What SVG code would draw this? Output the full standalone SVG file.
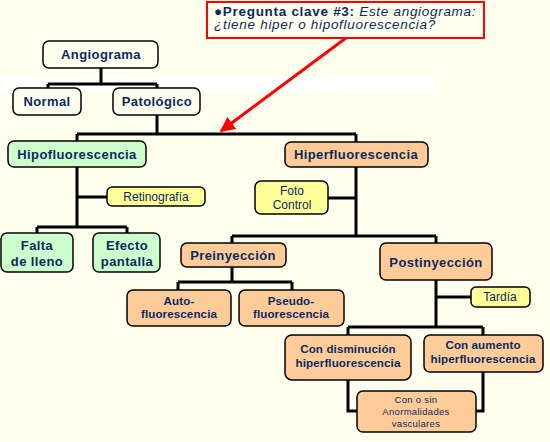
<svg xmlns="http://www.w3.org/2000/svg" width="550" height="442" viewBox="0 0 550 442">
<defs>
<style>
.box{stroke:#000;stroke-width:1.5}
.w{fill:#FFFFF0}
.g{fill:#CCFFCC}
.p{fill:#FFCC99}
.y{fill:#FFFF99}
.t{font-family:"Liberation Sans",Arial,sans-serif;font-size:13px;font-weight:bold;fill:#0A2A5E;text-anchor:middle;letter-spacing:0.4px}
.m{font-family:"Liberation Sans",Arial,sans-serif;font-size:11.6px;font-weight:bold;fill:#0A2A5E;text-anchor:middle;letter-spacing:0.1px}
.r{font-family:"Liberation Sans",Arial,sans-serif;font-size:12px;fill:#0A2A5E;text-anchor:middle}
.s{font-family:"Liberation Sans",Arial,sans-serif;font-size:9.5px;fill:#0A2A5E;text-anchor:middle;letter-spacing:0.3px}
.q{font-family:"Liberation Sans",Arial,sans-serif;font-size:13.5px;fill:#0A2A5E;letter-spacing:0.7px}
.c{fill:none;stroke:#000;stroke-width:3}
</style>
<marker id="ah" viewBox="0 0 10 10" refX="9" refY="5" markerWidth="5" markerHeight="5" orient="auto" markerUnits="strokeWidth">
<path d="M0,0 L10,5 L0,10 z" fill="#FF0000"/>
</marker>
</defs>
<rect width="550" height="442" fill="#FFFFF0"/>
<rect x="2" y="77" width="433" height="15" fill="#FFFFFF"/>
<g id="connectors">
<path class="c" d="M101,68 V84 M48,84 H157 M48,84 V88 M157,84 V88"/>
<path class="c" d="M157,115 V134 M77,134 H356 M77,134 V141 M356,134 V142"/>
<path class="c" d="M77,167 V227 M77,197 H107 M37,227 H127 M37,227 V233 M127,227 V233"/>
<path class="c" d="M356,167 V236 M328,198 H356 M232,236 H436 M232,236 V243 M436,236 V243"/>
<path class="c" d="M232,267 V282 M178,282 H292 M178,282 V290 M292,282 V290"/>
<path class="c" d="M436,280 V327 M436,297 H471 M348,327 H483 M348,327 V335 M483,327 V335"/>
<path class="c" d="M348,380 V411 H357 M483,372 V411 H476"/>
<line x1="346" y1="38" x2="221" y2="131" stroke="#FF0000" stroke-width="3" marker-end="url(#ah)"/>
</g>
<g id="callout">
<rect x="207" y="2" width="277" height="36" fill="#FFFFF0" stroke="#FF0000" stroke-width="2"/>
<text class="q" x="214" y="16"><tspan font-weight="bold">●Pregunta clave #3:</tspan><tspan font-style="italic"> Este angiograma:</tspan></text>
<text class="q" x="214" y="29" font-style="italic">¿tiene hiper o hipofluorescencia?</text>
</g>
<g id="angiograma"><rect class="box w" x="43" y="41" width="115" height="27" rx="6"/><text class="t" x="101" y="59">Angiograma</text></g>
<g id="normal"><rect class="box w" x="13" y="88" width="68" height="27" rx="6"/><text class="t" x="47" y="106">Normal</text></g>
<g id="patologico"><rect class="box w" x="113" y="88" width="87" height="27" rx="6"/><text class="t" x="157" y="106">Patológico</text></g>
<g id="hipofluorescencia"><rect class="box g" x="8" y="141" width="138" height="26" rx="6"/><text class="t" x="77" y="159">Hipofluorescencia</text></g>
<g id="retinografia"><rect class="box y" x="107" y="187" width="98" height="19" rx="5"/><text class="r" x="156" y="201">Retinografía</text></g>
<g id="falta"><rect class="box g" x="1" y="233" width="72" height="39" rx="6"/><text class="t" x="37" y="250">Falta</text><text class="t" x="37" y="266">de lleno</text></g>
<g id="efecto"><rect class="box g" x="93" y="233" width="67" height="39" rx="6"/><text class="t" x="127" y="250">Efecto</text><text class="t" x="127" y="266">pantalla</text></g>
<g id="hiperfluorescencia"><rect class="box p" x="285" y="142" width="143" height="25" rx="6"/><text class="t" x="356" y="159">Hiperfluorescencia</text></g>
<g id="foto"><rect class="box y" x="255" y="181" width="73" height="33" rx="6"/><text class="r" x="292" y="195">Foto</text><text class="r" x="292" y="209">Control</text></g>
<g id="preinyeccion"><rect class="box p" x="181" y="243" width="105" height="24" rx="6"/><text class="t" x="233" y="260">Preinyección</text></g>
<g id="auto"><rect class="box p" x="127" y="290" width="104" height="36" rx="6"/><text class="m" x="179" y="305">Auto-</text><text class="m" x="179" y="318">fluorescencia</text></g>
<g id="pseudo"><rect class="box p" x="239" y="290" width="105" height="36" rx="6"/><text class="m" x="291" y="305">Pseudo-</text><text class="m" x="291" y="318">fluorescencia</text></g>
<g id="postinyeccion"><rect class="box p" x="380" y="243" width="112" height="37" rx="6"/><text class="t" x="436" y="267">Postinyección</text></g>
<g id="tardia"><rect class="box y" x="471" y="287" width="59" height="20" rx="5"/><text class="r" x="500" y="301">Tardía</text></g>
<g id="disminucion"><rect class="box p" x="285" y="335" width="126" height="45" rx="7"/><text class="m" x="348" y="353">Con disminución</text><text class="m" x="348" y="367">hiperfluorescencia</text></g>
<g id="aumento"><rect class="box p" x="424" y="335" width="119" height="37" rx="6"/><text class="m" x="483" y="349">Con aumento</text><text class="m" x="483" y="363">hiperfluorescencia</text></g>
<g id="conosin"><rect class="box p" x="357" y="391" width="119" height="41" rx="6"/><text class="s" x="416" y="403">Con o sin</text><text class="s" x="416" y="415">Anormalidades</text><text class="s" x="416" y="427">vasculares</text></g>
</svg>
